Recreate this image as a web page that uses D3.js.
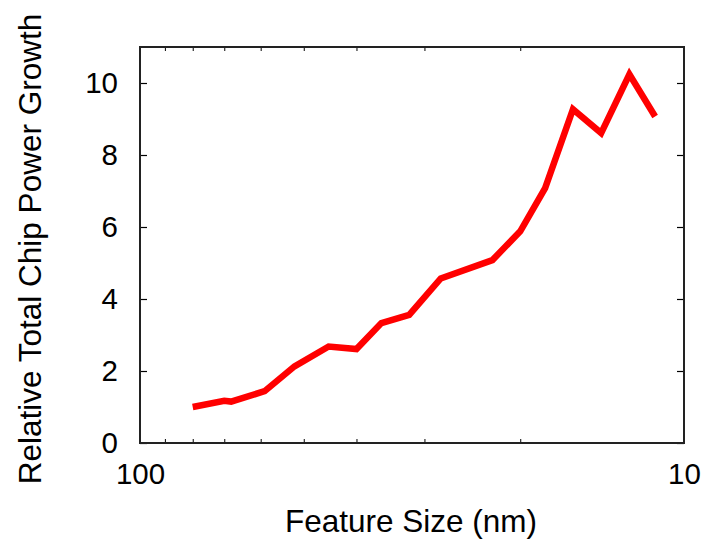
<!DOCTYPE html>
<html>
<head>
<meta charset="utf-8">
<script src="https://cdn.jsdelivr.net/npm/d3@7"></script>
<style>
  html, body { margin: 0; padding: 0; background: #fff; }
  svg { display: block; }
  text { font-family: "Liberation Sans", Arial, Helvetica, sans-serif; fill: #000; }
</style>
</head>
<body>
<svg id="chart" width="707" height="544"></svg>
<script>
// ---- data ----
const featureSize = [80, 70, 68, 59, 52, 45, 40, 36, 32, 28, 22.5, 20, 18, 16, 14.2, 12.6, 11.3];
const powerGrowth = [1.0, 1.17, 1.15, 1.44, 2.13, 2.68, 2.61, 3.33, 3.56, 4.57, 5.08, 5.88, 7.08, 9.27, 8.61, 10.24, 9.07];
const xMajorTicks = [100, 10];
const xMinorTicks = [90, 80, 70, 60, 50, 40, 30, 20];
const yTicks = [0, 2, 4, 6, 8, 10];
const xTitle = "Feature Size (nm)";
const yTitle = "Relative Total Chip Power Growth";

// ---- layout ----
const W = 707, H = 544;
const m = { left: 140, right: 707 - 684, top: 47, bottom: 544 - 443 };
const svg = d3.select("#chart");
svg.append("rect").attr("width", W).attr("height", H).attr("fill", "#fff");

const x = d3.scaleLog().domain([100, 10]).range([m.left, W - m.right]);
const y = d3.scaleLinear().domain([0, 11]).range([H - m.bottom, m.top]);

const fs = 29.5;
const tfs = 31.5;

// bottom axis (minor ticks inward)
const gx = svg.append("g").attr("transform", `translate(0,${H - m.bottom})`)
  .call(d3.axisBottom(x).tickValues(xMinorTicks).tickSize(-4).tickFormat(""));
gx.select(".domain").remove();
gx.selectAll("line").attr("stroke", "#000").attr("stroke-width", 1);

// top mirror ticks
const gxt = svg.append("g").attr("transform", `translate(0,${m.top})`)
  .call(d3.axisTop(x).tickValues(xMinorTicks).tickSize(-4).tickFormat(""));
gxt.select(".domain").remove();
gxt.selectAll("line").attr("stroke", "#000").attr("stroke-width", 1);

// x major labels
const gxl = svg.append("g").attr("transform", `translate(0,${H - m.bottom})`)
  .call(d3.axisBottom(x).tickValues(xMajorTicks).tickSize(0).tickPadding(20).tickFormat(d3.format("d")));
gxl.select(".domain").remove();
gxl.selectAll("text").attr("font-size", fs).attr("font-family", "Liberation Sans, Arial, sans-serif").attr("fill", "#000");

// left axis
const gy = svg.append("g").attr("transform", `translate(${m.left},0)`)
  .call(d3.axisLeft(y).tickValues(yTicks).tickSize(-7).tickPadding(22).tickFormat(d3.format("d")));
gy.select(".domain").remove();
gy.selectAll("line").attr("stroke", "#000").attr("stroke-width", 1.2);
gy.selectAll("text").attr("font-size", fs).attr("font-family", "Liberation Sans, Arial, sans-serif").attr("fill", "#000");

// right mirror ticks
const gyr = svg.append("g").attr("transform", `translate(${W - m.right},0)`)
  .call(d3.axisRight(y).tickValues(yTicks).tickSize(-7).tickFormat(""));
gyr.select(".domain").remove();
gyr.selectAll("line").attr("stroke", "#000").attr("stroke-width", 1.2);

// frame
svg.append("rect")
  .attr("x", m.left).attr("y", m.top)
  .attr("width", W - m.left - m.right).attr("height", H - m.top - m.bottom)
  .attr("fill", "none").attr("stroke", "#222").attr("stroke-width", 2);

// line
const pts = featureSize.map((f, i) => [f, powerGrowth[i]]);
svg.append("path")
  .datum(pts)
  .attr("fill", "none")
  .attr("stroke", "#ff0000")
  .attr("stroke-width", 6.5)
  .attr("stroke-linejoin", "miter")
  .attr("d", d3.line().x(d => x(d[0])).y(d => y(d[1])));

// titles
svg.append("text")
  .attr("x", 411)
  .attr("y", 532)
  .attr("text-anchor", "middle")
  .attr("font-size", tfs)
  .text(xTitle);

svg.append("text")
  .attr("transform", `translate(41,${249}) rotate(-90)`)
  .attr("text-anchor", "middle")
  .attr("font-size", tfs)
  .text(yTitle);
</script>
</body>
</html>
